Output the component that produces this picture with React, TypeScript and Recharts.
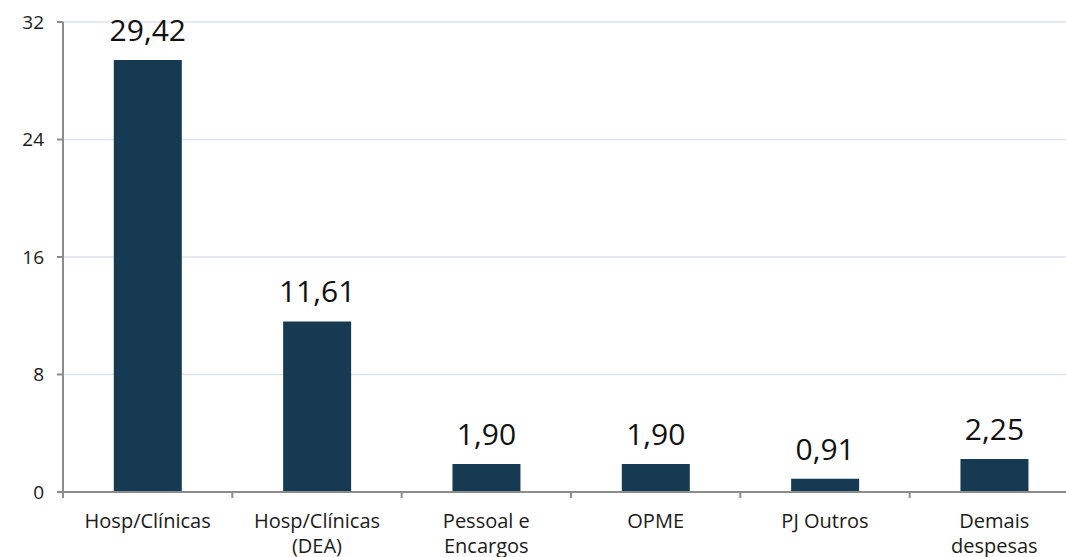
import React from 'react';
import { BarChart, Bar, XAxis, YAxis, CartesianGrid, LabelList } from 'recharts';

const categories = ['Hosp/Clínicas', 'Hosp/Clínicas (DEA)', 'Pessoal e Encargos', 'OPME', 'PJ Outros', 'Demais despesas'];
const categoryLines = [['Hosp/Clínicas'], ['Hosp/Clínicas', '(DEA)'], ['Pessoal e', 'Encargos'], ['OPME'], ['PJ Outros'], ['Demais', 'despesas']];
const values = [29.42, 11.61, 1.9, 1.9, 0.91, 2.25];
const yTicks = [0, 8, 16, 24, 32];

const data = categories.map((c, i) => ({ name: c, value: values[i] }));

const FONT = '"Open Sans", Arial, sans-serif';
const AXIS = '#8c8c8c';

const XTick = (props: any) => {
  const { x, y, payload, width } = props;
  const idx = payload.index;
  const lines = categoryLines[idx] || [payload.value];
  const half = (typeof width === 'number' && width > 0 ? width : 1016) / categories.length / 2;
  return (
    <g>
      <line x1={x - half} x2={x - half} y1={y - 1} y2={y + 6} stroke={AXIS} strokeWidth={2} />
      {idx === categories.length - 1 && (
        <line x1={x + half} x2={x + half} y1={y - 1} y2={y + 6} stroke={AXIS} strokeWidth={2} />
      )}
      <text x={x} y={y} textAnchor="middle" fontFamily={FONT} fontSize={20} fill="#1a1a1a">
        {lines.map((l: string, i: number) => (
          <tspan key={i} x={x} dy={i === 0 ? 36 : 25}>{l}</tspan>
        ))}
      </text>
    </g>
  );
};

const fmt = (v: any) => Number(v).toFixed(2).replace('.', ',');

export default function App() {
  return (
    <div style={{ position: 'absolute', left: 0, top: 0, width: 1066, height: 557, overflow: 'hidden', background: '#fff' }}>
      <BarChart
        width={1100}
        height={557}
        data={data}
        margin={{ top: 22, right: 21, bottom: 5, left: 0 }}
        barCategoryGap="30%"
      >
        <CartesianGrid vertical={false} stroke="#dce3ec" strokeWidth={1.5} />
        <XAxis
          dataKey="name"
          interval={0}
          tick={<XTick />}
          tickLine={false}
          tickSize={0}
          tickMargin={0}
          axisLine={{ stroke: AXIS, strokeWidth: 2 }}
          height={60}
        />
        <YAxis
          domain={[0, 32]}
          ticks={yTicks}
          width={63}
          tickSize={6}
          tickMargin={13}
          axisLine={{ stroke: AXIS, strokeWidth: 2 }}
          tickLine={{ stroke: AXIS, strokeWidth: 2 }}
          tick={{ fontFamily: FONT, fontSize: 19, fill: '#1a1a1a' }}
        />
        <Bar dataKey="value" fill="#153a51" isAnimationActive={false}>
          <LabelList
            dataKey="value"
            position="top"
            offset={19}
            formatter={fmt}
            style={{ fontFamily: FONT, fontSize: 30, fill: '#111' }}
          />
        </Bar>
      </BarChart>
    </div>
  );
}
